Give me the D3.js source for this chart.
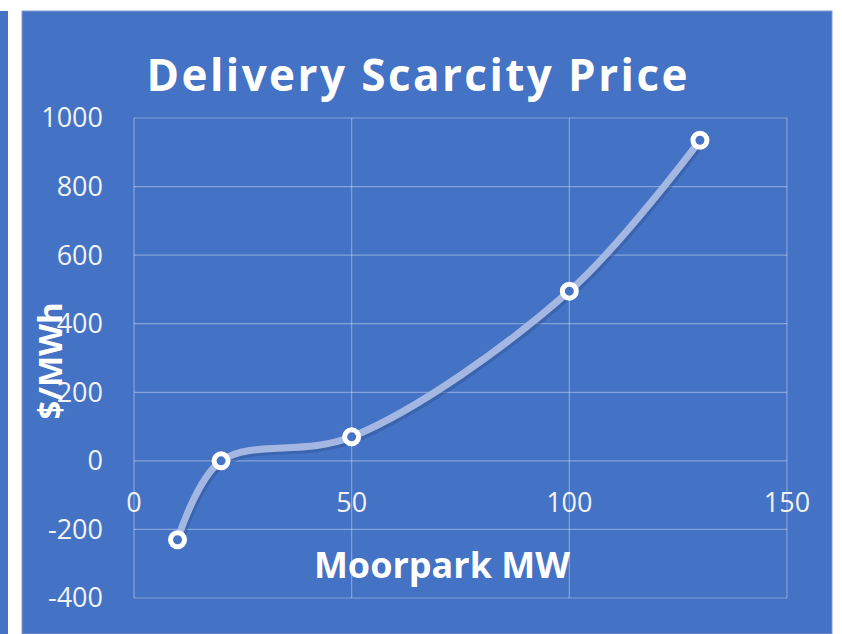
<!DOCTYPE html>
<html>
<head>
<meta charset="utf-8">
<script src="https://cdn.jsdelivr.net/npm/d3@7"></script>
<style>
  body { margin: 0; background: #fff; }
  text { font-family: "Open Sans", "Noto Sans", sans-serif; fill: #fff; }
</style>
</head>
<body>
<script>
// data
const moorparkMW = [10, 20, 50, 100, 130];
const pricePerMWh = [-230, 0, 70, 495, 935];
const xTicks = [0, 50, 100, 150];
const yTicks = [-400, -200, 0, 200, 400, 600, 800, 1000];

const width = 842, height = 634;
const blue = "#4472c4";
const margin = {top: 118, right: 55, bottom: 36, left: 134};

const svg = d3.select("body").append("svg")
    .attr("width", width)
    .attr("height", height);

// background panels (thin strip on the left, then the chart area)
svg.append("rect").attr("x", 0).attr("y", 11).attr("width", 8).attr("height", height - 11).attr("fill", blue);
svg.append("rect").attr("x", 22).attr("y", 11).attr("width", 810).attr("height", height - 11)
    .attr("fill", blue).attr("stroke", "#7e9bd6").attr("stroke-width", 1);

const x = d3.scaleLinear().domain([0, 150]).range([margin.left, width - margin.right]);
const y = d3.scaleLinear().domain([-400, 1000]).range([height - margin.bottom, margin.top]);

// gridlines
const grid = svg.append("g").attr("stroke", "rgba(255,255,255,0.35)").attr("stroke-width", 1.2);
grid.selectAll(".h").data(yTicks).join("line")
    .attr("x1", x(0)).attr("x2", x(150))
    .attr("y1", d => y(d)).attr("y2", d => y(d));
grid.selectAll(".v").data(xTicks).join("line")
    .attr("y1", y(-400)).attr("y2", y(1000))
    .attr("x1", d => x(d)).attr("x2", d => x(d));

// y tick labels
svg.append("g").selectAll("text").data(yTicks).join("text")
    .attr("x", 103)
    .attr("y", d => y(d))
    .attr("dy", "0.35em")
    .attr("text-anchor", "end")
    .style("font-size", "27px")
    .style("fill", "#f2f2f2")
    .text(d => d);

// x tick labels (they hang under the zero line)
svg.append("g").selectAll("text").data(xTicks).join("text")
    .attr("x", d => x(d))
    .attr("y", 512)
    .attr("text-anchor", "middle")
    .style("font-size", "27px")
    .style("fill", "#f2f2f2")
    .text(d => d);

// title
svg.append("text")
    .attr("x", 417).attr("y", 91)
    .attr("text-anchor", "middle")
    .attr("textLength", 541)
    .attr("lengthAdjust", "spacing")
    .style("font-size", "44px")
    .style("font-weight", "bold")
    .text("Delivery Scarcity Price");

// axis titles
svg.append("text")
    .attr("x", 442).attr("y", 578)
    .attr("text-anchor", "middle")
    .style("font-size", "36px")
    .style("font-weight", "bold")
    .text("Moorpark MW");

svg.append("text")
    .attr("transform", "translate(62,361) rotate(-90)")
    .attr("text-anchor", "middle")
    .style("font-size", "33px")
    .style("font-weight", "bold")
    .text("$/MWh");

// smoothed line with a soft shadow
const pts = moorparkMW.map((d, i) => [d, pricePerMWh[i]]);
const line = d3.line()
    .x(d => x(d[0]))
    .y(d => y(d[1]))
    .curve(d3.curveCatmullRom.alpha(0.5));

svg.append("path")
    .attr("d", line(pts))
    .attr("transform", "translate(2,3)")
    .attr("fill", "none")
    .attr("stroke", "#2f5597")
    .attr("stroke-opacity", 0.5)
    .attr("stroke-width", 6.5)
    .attr("stroke-linecap", "round");

svg.append("path")
    .attr("d", line(pts))
    .attr("fill", "none")
    .attr("stroke", "#a4b7e2")
    .attr("stroke-width", 7)
    .attr("stroke-linecap", "round");

// markers
svg.append("g").selectAll("circle").data(pts).join("circle")
    .attr("cx", d => x(d[0]))
    .attr("cy", d => y(d[1]))
    .attr("r", 7)
    .attr("fill", blue)
    .attr("stroke", "#fff")
    .attr("stroke-width", 5);
</script>
</body>
</html>
